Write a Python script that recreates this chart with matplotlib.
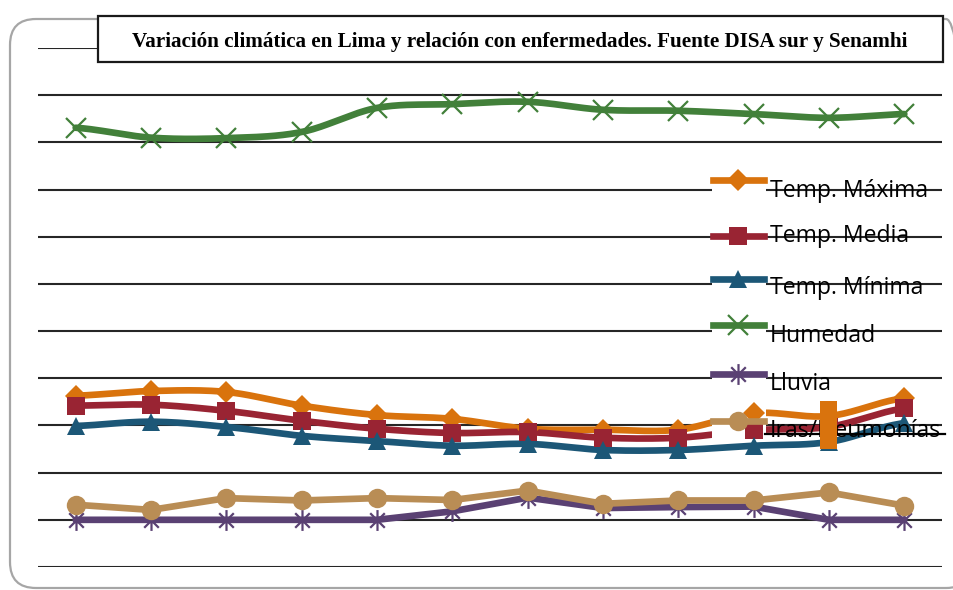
import numpy as np
import matplotlib
matplotlib.use("Agg")
import matplotlib.pyplot as plt
from matplotlib.lines import Line2D
from matplotlib.patches import Rectangle, FancyBboxPatch
from matplotlib.transforms import IdentityTransform
from matplotlib.path import Path

# ---------------- data ----------------
months = list(range(12))
temp_max = [26.3, 27.3, 27.1, 24.2, 22.2, 21.4, 19.3, 19.1, 19.1, 22.6, 22.0, 25.8]
temp_media = [24.2, 24.4, 23.1, 21.0, 19.3, 18.4, 18.6, 17.4, 17.4, 19.0, 19.7, 23.6]
temp_min = [19.9, 20.8, 19.7, 17.8, 16.7, 15.7, 16.1, 14.8, 14.8, 15.7, 16.5, 20.5]
humedad = [83.1, 81.0, 80.9, 82.2, 87.3, 88.1, 88.6, 86.9, 86.7, 86.0, 85.2, 86.0]
lluvia = [0.0, 0.0, 0.0, 0.0, 0.0, 1.8, 4.7, 2.5, 2.7, 2.8, 0.0, 0.0]
iras = [3.2, 2.1, 4.6, 4.1, 4.6, 4.2, 6.2, 3.4, 4.1, 4.1, 5.8, 3.0]

labels = ["Temp. Máxima", "Temp. Media", "Temp. Mínima", "Humedad", "Lluvia", "Iras/Neumonías"]
title = "Variación climática en Lima y relación con enfermedades. Fuente DISA sur y Senamhi"

# asterisk marker: X plus vertical bar
star = Path([(-0.7, -0.7), (0.7, 0.7), (-0.7, 0.7), (0.7, -0.7), (0, -1), (0, 1)],
            [Path.MOVETO, Path.LINETO, Path.MOVETO, Path.LINETO, Path.MOVETO, Path.LINETO])

colors = ["#D9730D", "#992433", "#1C5777", "#42803A", "#5A4173", "#B98D55"]
markers = ["D", "s", "^", "x", star, "o"]
msizes = [11.5, 13, 13, 14, 15, 14]
line_marker = [False, False, False, True, True, False]
smooth = [True, True, True, True, False, False]
series = [temp_max, temp_media, temp_min, humedad, lluvia, iras]

W, H = 954, 590
T = IdentityTransform()


def catmull(xs, ys, n=20):
    xs = np.asarray(xs, float)
    ys = np.asarray(ys, float)
    px = np.concatenate([[2 * xs[0] - xs[1]], xs, [2 * xs[-1] - xs[-2]]])
    py = np.concatenate([[ys[0]], ys, [ys[-1]]])
    ox, oy = [], []
    for i in range(1, len(px) - 2):
        t = np.linspace(0, 1, n, endpoint=False)
        for arr, out in ((px, ox), (py, oy)):
            p0, p1, p2, p3 = arr[i - 1], arr[i], arr[i + 1], arr[i + 2]
            out.extend(0.5 * ((2 * p1) + (-p0 + p2) * t
                              + (2 * p0 - 5 * p1 + 4 * p2 - p3) * t ** 2
                              + (-p0 + 3 * p1 - 3 * p2 + p3) * t ** 3))
    ox.append(xs[-1])
    oy.append(ys[-1])
    return np.array(ox), np.array(oy)


fig = plt.figure(figsize=(W / 100, H / 100), dpi=100)
fig.patch.set_facecolor("white")

ax = fig.add_axes([38 / W, 1 - 567 / H, 904 / W, (567 - 48) / H])
ax.set_xlim(-0.5, 11.5)
ax.set_ylim(-10, 100)
for s in ax.spines.values():
    s.set_visible(False)
ax.set_xticks([])
ax.set_yticks(np.arange(-10, 101, 10))
ax.tick_params(axis="y", length=0, labelleft=False)
ax.grid(axis="y", color="#262626", linewidth=1.5)
ax.set_axisbelow(True)

for i, (vals, c, m, ms, lm, sm) in enumerate(zip(series, colors, markers, msizes, line_marker, smooth)):
    if sm:
        cx, cy = catmull(months, vals)
    else:
        cx, cy = months, vals
    ax.plot(cx, cy, color=c, linewidth=4.8, solid_capstyle="round", zorder=2 + i)
    mew = 1.6 if lm else 0
    ax.plot(months, vals, linestyle="none", marker=m, markersize=ms, color=c,
            markeredgecolor=c, markeredgewidth=mew, zorder=10 + i)

# outer rounded frame
frame = FancyBboxPatch((10, H - 588), 962, 588 - 19,
                       boxstyle="round,pad=0,rounding_size=26",
                       transform=T, facecolor="none", edgecolor="#A6A6A6",
                       linewidth=1.6, zorder=20)
fig.add_artist(frame)

# title box
tb = Rectangle((98, H - 62), 943 - 98, 62 - 16, transform=T,
               facecolor="white", edgecolor="#1a1a1a", linewidth=1.6, zorder=21)
fig.add_artist(tb)
fig.text((127 + 912) / 2 / W, 1 - 42 / H, title, ha="center", va="center",
         family="Liberation Serif", fontweight="bold", fontsize=15.2, zorder=22)

# legend (manual)
handle_y = [180, 236, 279, 325, 374, 421]
text_y = [191, 236, 288, 336, 384, 431]
for lab, c, m, ms, lm, hy, ty in zip(labels, colors, markers, msizes, line_marker, handle_y, text_y):
    # white backing sits above the series lines but below the data markers
    bg = Rectangle((712, H - hy - 17), 54, 34, transform=T, facecolor="white",
                   edgecolor="none", zorder=9, clip_on=False)
    ax.add_artist(bg)
    mew = 1.6 if lm else 0
    ln = Line2D([713 / W, 764 / W], [1 - hy / H, 1 - hy / H], transform=fig.transFigure,
                color=c, linewidth=4.8, zorder=24)
    fig.add_artist(ln)
    mk = Line2D([738.5 / W], [1 - hy / H], transform=fig.transFigure, color=c,
                marker=m, markersize=ms, markeredgecolor=c, markeredgewidth=mew,
                linestyle="none", zorder=25)
    fig.add_artist(mk)
    fig.text(770 / W, 1 - ty / H, lab, ha="left", va="center", family="Open Sans",
             fontsize=16.6, color="black", zorder=26)

# black segment through last legend label
fig.add_artist(Line2D([765 / W, 945 / W], [1 - 434 / H, 1 - 434 / H],
                      transform=fig.transFigure, color="black", linewidth=1.6, zorder=27))
# orange block artefact
fig.add_artist(Rectangle((820, H - 449), 17, 48, transform=T, facecolor="#D9730D",
                         edgecolor="none", zorder=28))

fig.savefig("out.png", dpi=100, facecolor="white")
